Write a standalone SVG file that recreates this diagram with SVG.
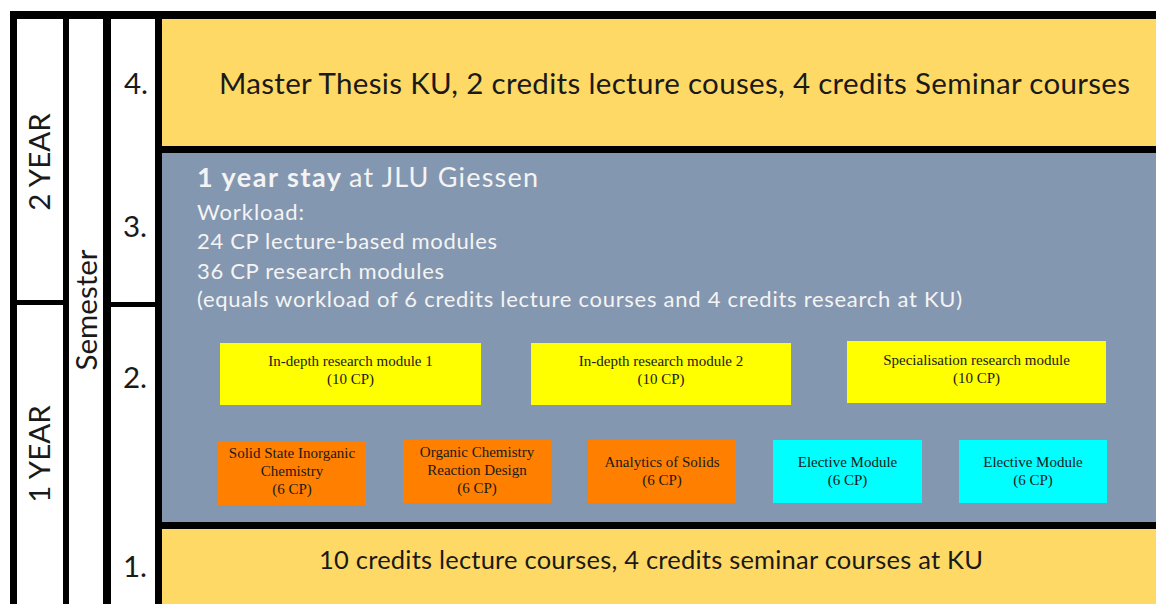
<svg xmlns="http://www.w3.org/2000/svg" width="1156" height="604" viewBox="0 0 1156 604">
<style>
.cell{fill:#ffffff}
.band{fill:#FFD966}
.grey{fill:#8497B0}
.lbl{font-family:Lato,"Noto Sans","Liberation Sans",sans-serif;fill:#1a1a1a}
.big{font-size:29.5px}
.wt{font-family:Lato,"Noto Sans","Liberation Sans",sans-serif;fill:#f4f4f4}
.mod{font-family:"Liberation Serif","Times New Roman",serif;font-size:15px;fill:#1a1a1a;text-anchor:middle}
.yel{fill:#FFFF00}
.org{fill:#FF8000}
.cyn{fill:#00FFFF}
</style>
<rect x="0" y="0" width="1156" height="604" fill="#ffffff"/>
<rect x="10" y="11" width="1146" height="593" fill="#000000"/>
<g id="year-col">
<rect class="cell" x="17" y="19" width="46" height="281"/>
<rect class="cell" x="17" y="305" width="46" height="299"/>
<text class="lbl big" transform="translate(50,162) rotate(-90)" text-anchor="middle">2 YEAR</text>
<text class="lbl big" transform="translate(50,454) rotate(-90)" text-anchor="middle">1 YEAR</text>
</g>
<g id="semester-col">
<rect class="cell" x="69" y="19" width="34" height="585"/>
<text class="lbl big" transform="translate(97,310) rotate(-90)" text-anchor="middle">Semester</text>
</g>
<g id="number-col">
<rect class="cell" x="111" y="19" width="44" height="283"/>
<rect class="cell" x="111" y="307" width="44" height="297"/>
<text class="lbl big" x="124" y="94">4.</text>
<text class="lbl big" x="123" y="237">3.</text>
<text class="lbl big" x="123" y="388">2.</text>
<text class="lbl big" x="123" y="577">1.</text>
</g>
<g id="sem4">
<rect class="band" x="162" y="19" width="994" height="127"/>
<text class="lbl big" x="219" y="94" textLength="911">Master Thesis KU, 2 credits lecture couses, 4 credits Seminar courses</text>
</g>
<g id="jlu">
<rect class="grey" x="162" y="153" width="994" height="369"/>
<text class="wt" x="197" y="187" font-size="27px" font-weight="bold" textLength="144">1 year stay</text>
<text class="wt" x="349" y="187" font-size="27px" textLength="189">at JLU Giessen</text>
<text class="wt" x="197" y="220" font-size="22px" textLength="107">Workload:</text>
<text class="wt" x="197" y="249" font-size="22px" textLength="300">24 CP lecture-based modules</text>
<text class="wt" x="197" y="279" font-size="22px" textLength="247">36 CP research modules</text>
<text class="wt" x="197" y="307" font-size="22px" textLength="765">(equals workload of 6 credits lecture courses and 4 credits research at KU)</text>
</g>
<g id="sem1">
<rect class="band" x="162" y="529" width="994" height="75"/>
<text class="lbl" x="319" y="569" font-size="25.5px" textLength="664">10 credits lecture courses, 4 credits seminar courses at KU</text>
</g>
<g id="m-indepth1">
<rect class="yel" x="220" y="343" width="261" height="62"/>
<text class="mod" x="350.5" y="365.5">In-depth research module 1</text>
<text class="mod" x="350.5" y="384">(10 CP)</text>
</g>
<g id="m-indepth2">
<rect class="yel" x="531" y="343" width="260" height="62"/>
<text class="mod" x="661" y="365.5">In-depth research module 2</text>
<text class="mod" x="661" y="384">(10 CP)</text>
</g>
<g id="m-spec">
<rect class="yel" x="847" y="341" width="259" height="62"/>
<text class="mod" x="976.5" y="365">Specialisation research module</text>
<text class="mod" x="976.5" y="383">(10 CP)</text>
</g>
<g id="m-solid">
<rect class="org" x="218" y="442" width="148" height="63"/>
<text class="mod" x="292" y="458">Solid State Inorganic</text>
<text class="mod" x="292" y="476">Chemistry</text>
<text class="mod" x="292" y="494">(6 CP)</text>
</g>
<g id="m-organic">
<rect class="org" x="403" y="440" width="148" height="63"/>
<text class="mod" x="477" y="457">Organic Chemistry</text>
<text class="mod" x="477" y="475">Reaction Design</text>
<text class="mod" x="477" y="493">(6 CP)</text>
</g>
<g id="m-analytics">
<rect class="org" x="588" y="440" width="148" height="63"/>
<text class="mod" x="662" y="467">Analytics of Solids</text>
<text class="mod" x="662" y="485">(6 CP)</text>
</g>
<g id="m-elective1">
<rect class="cyn" x="773" y="440" width="149" height="63"/>
<text class="mod" x="847.5" y="467">Elective Module</text>
<text class="mod" x="847.5" y="485">(6 CP)</text>
</g>
<g id="m-elective2">
<rect class="cyn" x="959" y="440" width="148" height="63"/>
<text class="mod" x="1033" y="467">Elective Module</text>
<text class="mod" x="1033" y="485">(6 CP)</text>
</g>
<g id="connectors"></g>
</svg>
